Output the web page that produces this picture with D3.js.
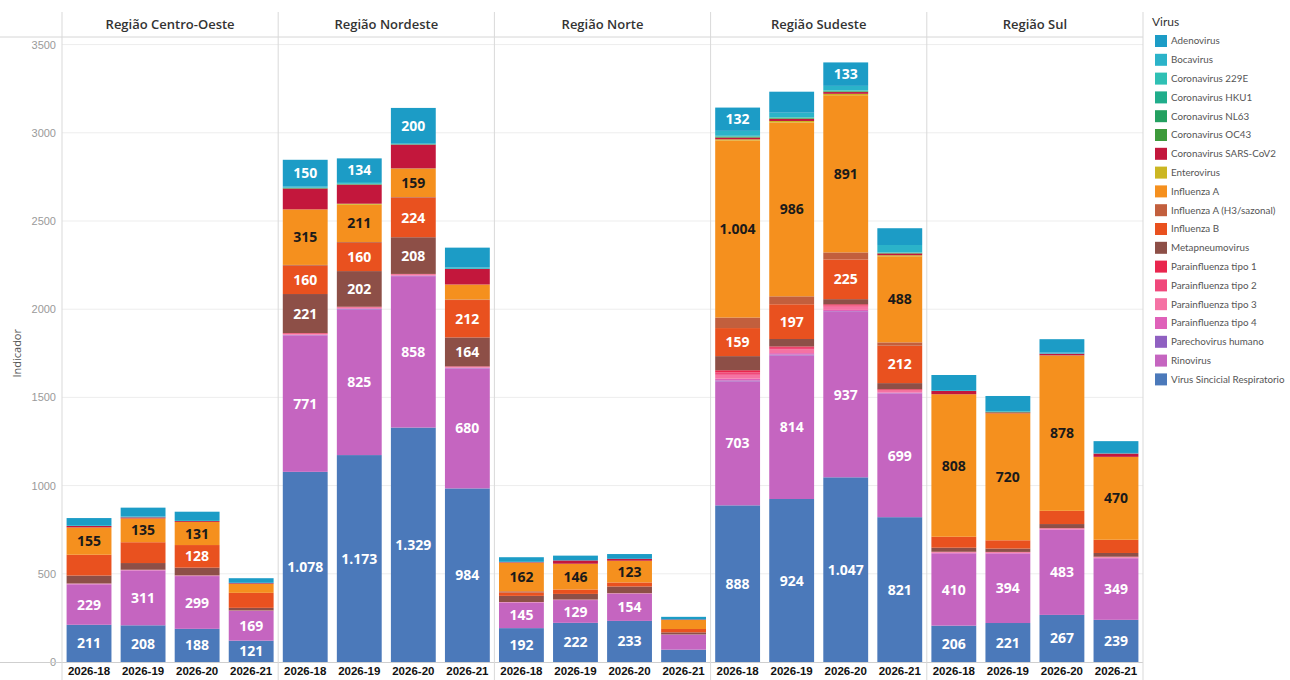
<!DOCTYPE html>
<html>
<head>
<meta charset="utf-8">
<script src="https://cdn.jsdelivr.net/npm/d3@7"></script>
<style>
  body { margin: 0; background: #fff; }
  svg { display: block; font-family: 'Open Sans', 'Noto Sans', sans-serif; }
</style>
</head>
<body>
<svg id="chart" width="1290" height="680"></svg>
<script>
// Facets and categories
const regions = ['Região Centro-Oeste', 'Região Nordeste', 'Região Norte', 'Região Sudeste', 'Região Sul'];
const weeks = ['2026-18', '2026-19', '2026-20', '2026-21'];
const yTicks = [0, 500, 1000, 1500, 2000, 2500, 3000, 3500];

// Legend order (top to bottom); stacks are drawn in reverse, VSR at the base
const viruses = [
  'Adenovirus', 'Bocavirus', 'Coronavirus 229E', 'Coronavirus HKU1', 'Coronavirus NL63',
  'Coronavirus OC43', 'Coronavirus SARS-CoV2', 'Enterovirus', 'Influenza A',
  'Influenza A (H3/sazonal)', 'Influenza B', 'Metapneumovirus', 'Parainfluenza tipo 1',
  'Parainfluenza tipo 2', 'Parainfluenza tipo 3', 'Parainfluenza tipo 4',
  'Parechovirus humano', 'Rinovirus', 'Virus Sincicial Respiratorio'
];
const virusColors = [
  '#1c9cc6', '#2bb3c9', '#2fc0b4', '#20ad8b', '#23a060',
  '#3d9a3b', '#c3173c', '#cbb622', '#f5901e',
  '#c25f3d', '#e9511f', '#8d4f47', '#e9264e',
  '#f0487b', '#f572a4', '#df61b9',
  '#8f60c1', '#c565c0', '#4b79ba'
];

// Values per virus, ordered region by region (Centro-Oeste, Nordeste, Norte, Sudeste, Sul),
// each with weeks 2026-18 .. 2026-21
const adenovirus   = [40, 50, 47, 26,   150, 134, 200, 112,   26, 27, 27, 15,   132, 119, 133, 95,   85, 85, 76, 67];
const bocavirus    = [5, 5, 6, 2,       8, 10, 5, 8,          2, 0, 0, 0,       28, 25, 25, 42,      5, 4, 6, 3];
const corona229E   = [0, 0, 0, 0,       1, 1, 0, 0,           0, 0, 0, 0,       3, 3, 3, 2,          0, 0, 0, 0];
const coronaHKU1   = [0, 0, 0, 0,       1, 1, 1, 0,           0, 0, 0, 0,       2, 2, 2, 1,          0, 0, 0, 0];
const coronaNL63   = [0, 0, 0, 0,       1, 1, 1, 0,           0, 0, 0, 0,       2, 2, 2, 1,          0, 0, 0, 0];
const coronaOC43   = [0, 0, 0, 0,       2, 2, 1, 1,           0, 0, 0, 0,       3, 3, 3, 2,          0, 4, 0, 0];
const sarsCov2     = [8, 6, 5, 4,       118, 108, 135, 88,    3, 19, 11, 3,     10, 12, 10, 10,      19, 5, 10, 19];
const enterovirus  = [0, 0, 0, 0,       0, 6, 3, 0,           0, 0, 0, 0,       6, 8, 8, 6,          0, 0, 3, 0];
const influenzaA   = [155, 135, 131, 51, 315, 211, 159, 85,   162, 146, 123, 51, 1004, 986, 891, 488, 808, 720, 878, 470];
const influenzaH3  = [0, 0, 0, 0,       5, 5, 4, 3,           8, 0, 0, 0,       60, 45, 40, 19,      0, 0, 0, 0];
const influenzaB   = [118, 118, 128, 85, 160, 160, 224, 212,  18, 25, 23, 19,   159, 197, 225, 212,  62, 47, 75, 75];
const metapneumo   = [45, 38, 44, 15,   221, 202, 208, 164,   35, 32, 38, 12,   80, 42, 29, 34,      23, 19, 23, 21];
const parainf1     = [0, 0, 0, 0,       3, 3, 2, 2,           0, 0, 0, 0,       12, 8, 6, 4,         1, 1, 1, 1];
const parainf2     = [0, 0, 0, 0,       2, 2, 2, 2,           0, 0, 0, 0,       14, 10, 8, 5,        2, 2, 2, 2];
const parainf3     = [2, 2, 2, 1,       4, 4, 4, 3,           1, 1, 1, 0,       22, 20, 18, 10,      3, 3, 3, 3];
const parainf4     = [3, 2, 2, 1,       4, 4, 3, 3,           2, 2, 2, 1,       10, 8, 8, 5,         3, 3, 3, 3];
const parechovirus = [0, 0, 0, 0,       3, 3, 2, 2,           0, 0, 0, 0,       5, 5, 4, 3,          0, 0, 0, 0];
const rinovirus    = [229, 311, 299, 169, 771, 825, 858, 680, 145, 129, 154, 85, 703, 814, 937, 699, 410, 394, 483, 349];
const vsr          = [211, 208, 188, 121, 1078, 1173, 1329, 984, 192, 222, 233, 70, 888, 924, 1047, 821, 206, 221, 267, 239];

const seriesValues = [
  adenovirus, bocavirus, corona229E, coronaHKU1, coronaNL63, coronaOC43, sarsCov2,
  enterovirus, influenzaA, influenzaH3, influenzaB, metapneumo, parainf1, parainf2,
  parainf3, parainf4, parechovirus, rinovirus, vsr
];

// Series that carry value labels, and the smallest value that gets one
const labelledViruses = ['Adenovirus', 'Influenza A', 'Influenza B', 'Metapneumovirus', 'Rinovirus', 'Virus Sincicial Respiratorio'];
const labelMin = 121;

// ---- build rows for d3.stack ----
const rows = [];
regions.forEach((r, ri) => {
  weeks.forEach((w, wi) => {
    const row = { region: r, week: w };
    viruses.forEach((v, vi) => { row[v] = seriesValues[vi][ri * weeks.length + wi]; });
    rows.push(row);
  });
});

const stackKeys = viruses.slice().reverse();
const stacked = d3.stack().keys(stackKeys)(rows);
const color = d3.scaleOrdinal().domain(viruses).range(virusColors);

const ptBR = d3.formatLocale({ decimal: ',', thousands: '.', grouping: [3], currency: ['R$', ''] });
const fmt = ptBR.format(',d');

// ---- layout ----
const plotLeft = 62, plotRight = 1143;
const baseY = 662, topY = 44.6;
const headerLineY = 37;

const svg = d3.select('#chart');

const fx = d3.scaleBand().domain(regions).range([plotLeft, plotRight]).padding(0);
const x = d3.scaleBand().domain(weeks).range([0, fx.bandwidth()]).paddingInner(0.17).paddingOuter(0.085);
const y = d3.scaleLinear().domain([0, 3500]).range([baseY, topY]);

// gridlines
svg.append('g')
  .selectAll('line')
  .data(yTicks.filter(t => t > 0))
  .join('line')
  .attr('x1', plotLeft).attr('x2', plotRight)
  .attr('y1', d => y(d)).attr('y2', d => y(d))
  .attr('stroke', '#ededed').attr('stroke-width', 1);

// y axis
const yAxis = svg.append('g')
  .attr('transform', `translate(${plotLeft},0)`)
  .call(d3.axisLeft(y).tickValues(yTicks).tickSize(0).tickPadding(6).tickFormat(d3.format('d')));
yAxis.select('.domain').remove();
yAxis.selectAll('text')
  .attr('fill', '#9a9a9a')
  .style('font-size', '11px');

svg.append('text')
  .attr('transform', `translate(21,${(baseY + topY) / 2}) rotate(-90)`)
  .attr('text-anchor', 'middle')
  .attr('fill', '#555')
  .style('font-size', '11px')
  .text('Indicador');

// bars
const panel = svg.append('g');
stacked.forEach(layer => {
  const key = layer.key;
  panel.append('g')
    .attr('fill', color(key))
    .selectAll('rect')
    .data(layer.filter(d => d[1] - d[0] > 0))
    .join('rect')
    .attr('x', d => fx(d.data.region) + x(d.data.week))
    .attr('width', x.bandwidth())
    .attr('y', d => y(d[1]))
    .attr('height', d => y(d[0]) - y(d[1]));
});

// value labels
stacked.forEach(layer => {
  const key = layer.key;
  if (!labelledViruses.includes(key)) return;
  panel.append('g')
    .selectAll('text')
    .data(layer.filter(d => d[1] - d[0] >= labelMin))
    .join('text')
    .attr('x', d => fx(d.data.region) + x(d.data.week) + x.bandwidth() / 2)
    .attr('y', d => (y(d[0]) + y(d[1])) / 2)
    .attr('dy', '0.36em')
    .attr('text-anchor', 'middle')
    .attr('fill', key === 'Influenza A' ? '#1a1a1a' : '#fff')
    .style('font-size', '14px')
    .style('font-weight', 700)
    .text(d => fmt(d[1] - d[0]));
});

// x axes per region
regions.forEach(r => {
  const g = svg.append('g')
    .attr('transform', `translate(${fx(r)},${baseY})`)
    .call(d3.axisBottom(x).tickSize(0).tickPadding(5));
  g.select('.domain').remove();
  g.selectAll('text')
    .attr('fill', '#111')
    .style('font-size', '11.5px')
    .style('font-weight', 700);
});

// region headers
svg.append('g')
  .selectAll('text')
  .data(regions)
  .join('text')
  .attr('x', d => fx(d) + fx.bandwidth() / 2)
  .attr('y', 24)
  .attr('dy', '0.35em')
  .attr('text-anchor', 'middle')
  .attr('fill', '#333')
  .style('font-size', '13px')
  .style('font-weight', 600)
  .text(d => d);

// frame lines: header rule, baseline and panel separators
svg.append('line')
  .attr('x1', 0).attr('x2', plotRight)
  .attr('y1', headerLineY).attr('y2', headerLineY)
  .attr('stroke', '#d6d6d6');
svg.append('line')
  .attr('x1', 0).attr('x2', plotRight)
  .attr('y1', baseY + 0.5).attr('y2', baseY + 0.5)
  .attr('stroke', '#cfcfcf');
svg.append('g')
  .selectAll('line')
  .data(regions.map(r => fx(r)).concat([plotRight]))
  .join('line')
  .attr('x1', d => d).attr('x2', d => d)
  .attr('y1', 12).attr('y2', 686)
  .attr('stroke', '#d9d9d9');

// legend
const legend = svg.append('g').attr('transform', 'translate(1152,0)');
legend.append('text')
  .attr('x', 0).attr('y', 26)
  .attr('fill', '#333')
  .style('font-family', 'Lato, sans-serif')
  .style('font-size', '12px')
  .text('Virus');
const item = legend.selectAll('g.item')
  .data(viruses)
  .join('g')
  .attr('class', 'item')
  .attr('transform', (d, i) => `translate(0,${41 + i * 18.8})`);
item.append('rect')
  .attr('x', 3).attr('y', -6)
  .attr('width', 12).attr('height', 12)
  .attr('fill', d => color(d));
item.append('text')
  .attr('x', 19).attr('y', 0)
  .attr('dy', '0.35em')
  .attr('fill', '#555')
  .style('font-family', 'Lato, sans-serif')
  .style('font-size', '9.8px')
  .text(d => d);
</script>
</body>
</html>
